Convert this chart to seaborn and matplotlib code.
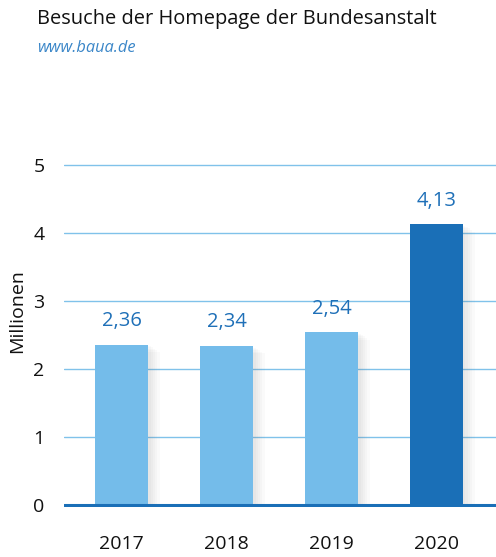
import matplotlib
matplotlib.use("Agg")
import matplotlib.pyplot as plt
import matplotlib.patheffects as pe
import seaborn as sns
import pandas as pd

years = ["2017", "2018", "2019", "2020"]
values = [2.36, 2.34, 2.54, 4.13]
labels = ["2,36", "2,34", "2,54", "4,13"]
bar_colors = ["#74BCEA", "#74BCEA", "#74BCEA", "#1A6FB7"]
yticks = [0, 1, 2, 3, 4, 5]

sns.set_theme(style="white")
plt.rcParams['font.family'] = ['Open Sans', 'DejaVu Sans']

df = pd.DataFrame({"Jahr": years, "Wert": values})

fig = plt.figure(figsize=(4.96, 5.57), dpi=100)
ax = fig.add_axes([64/496, 1-507/557, 1-64/496, 344/557])
ax.set_axisbelow(True)

sns.barplot(data=df, x="Jahr", y="Wert", hue="Jahr", palette=bar_colors,
            legend=False, width=0.5, ax=ax, saturation=1, linewidth=0)

shadow = [pe.SimplePatchShadow(offset=(k, -k * 0.6), shadow_rgbFace="#777777", alpha=0.035)
          for k in (9, 7, 5, 3.5, 2)]
for p in ax.patches:
    p.set_zorder(3)
    p.set_path_effects(shadow + [pe.Normal()])

ax.set_ylim(-0.03, 5.03)
ax.set_xlim(-0.548, 3.567)
ax.set_yticks(yticks)
for y in yticks[1:]:
    ax.axhline(y, color="#80C2EA", lw=1.0, zorder=1)
ax.axhline(0, color="#1A6FB7", lw=2.2, zorder=4)

for i, (v, lab) in enumerate(zip(values, labels)):
    ax.annotate(lab, (i, v), xytext=(0, 17), textcoords="offset points",
                ha="center", va="center", fontsize=14.5, color="#1F70B8", zorder=5)

for s in ax.spines.values():
    s.set_visible(False)
ax.tick_params(axis="both", length=0, labelsize=14, colors="#111111")
ax.tick_params(axis="x", pad=20)
ax.tick_params(axis="y", pad=14)
ax.set_xlabel("")
ax.set_ylabel("")

fig.text(17/496, 1-311/557, "Millionen", fontsize=14, rotation=90,
         color="#111111", ha="center", va="center")
fig.text(37/496, 1-19/557, "Besuche der Homepage der Bundesanstalt", fontsize=14.4,
         color="#111111", ha="left", va="center")
fig.text(37/496, 1-48/557, "www.baua.de", fontsize=11.8, style="italic",
         color="#3A86C8", ha="left", va="center")

fig.savefig("out.png", dpi=100)
